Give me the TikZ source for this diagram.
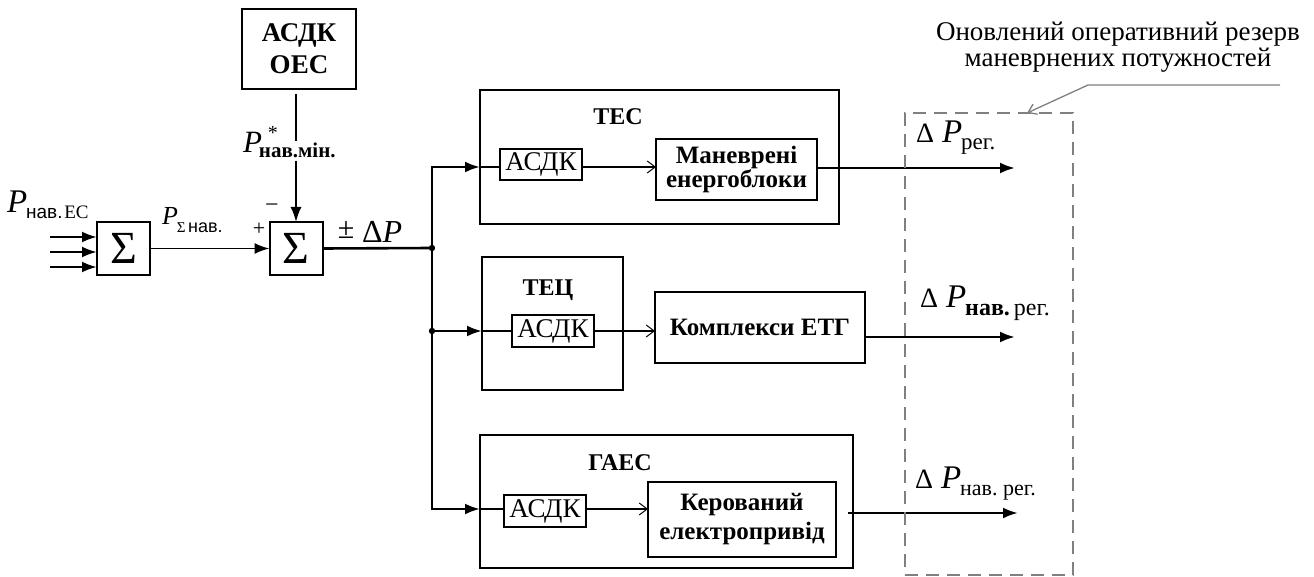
\documentclass[tikz,border=0pt]{standalone}
\usepackage{fontspec}
\setmainfont{Liberation Serif}
\newfontfamily\subsans{Liberation Sans}
\usetikzlibrary{arrows.meta,calc}
\newcommand{\fs}[1]{\fontsize{#1}{#1}\selectfont}
\newcommand{\DPlab}[2]{{\fs{28}Δ}\hspace{8pt}{\fs{33}\textit{P}}\kern-1pt\raisebox{-7pt}{\fs{#2}#1}}
\begin{document}
\begin{tikzpicture}[x=1pt,y=-1pt,
  every node/.style={inner sep=0pt,outer sep=0pt},
  sumbox/.style={draw,line width=2pt,minimum width=53pt,minimum height=53pt,font=\fs{46}},
  outerbox/.style={draw,line width=2.6pt},
  innerbox/.style={draw,line width=1.6pt},
  ttl/.style={font=\bfseries\fs{24}},
  asdk/.style={innerbox,minimum width=82pt,minimum height=31pt,font=\fs{27}},
  unit/.style={innerbox,align=center,font=\bfseries\fs{25}},
  sig/.style={line width=2.6pt},
  fine/.style={line width=1.4pt},
  fillarr/.style={-{Latex[length=15pt,width=11pt]}},
  openarr/.style={-{Straight Barb[length=8pt,width=12pt,line width=1pt]}},
  grayline/.style={draw=black!50,line width=1.3pt}
]
\useasboundingbox (0,0) rectangle (1314,577);

% summators
\node[sumbox] (s1) at (123.5,248.5) {Σ};
\node[sumbox] (s2) at (296,248.5) {Σ};
\node[draw,line width=2pt,minimum width=114pt,minimum height=80pt,align=center,
      font=\bfseries\fs{27},text depth=0pt] (oes) at (299,49) {АСДК\\[5pt]ОЕС};

% inputs
\coordinate (i1) at (50,237);
\coordinate (i2) at (50,252);
\coordinate (i3) at (50,267);
\foreach \c in {i1,i2,i3}{
  \draw[sig,fillarr] (\c) -- (\c -| s1.west);
}
\node[anchor=base west] (lin) at (7,213) {{\fs{33}\textit{P}}\kern-1pt\raisebox{-6pt}{{\subsans\fs{19}нав.}\,{\fs{19}ЕС}}};

% s1 -> s2
\draw[line width=1.8pt,fillarr] (s1.east) -- (s2.west);
\node[anchor=base west] (lsum) at (162,225) {{\fs{26}\textit{P}}\kern-1pt\raisebox{-8pt}{\fs{15}Σ\,{\subsans\fs{18}нав.}}};
\node (plus) at (259,229) {\fs{22}+};
\node (minus) at (272,208) {\fs{24}−};

% oes -> s2
\coordinate (m1) at (296,141);
\coordinate (m2) at (296,161);
\draw[line width=1.8pt,shorten <=5pt] (oes.south -| m1) -- (m1);
\draw[line width=1.8pt,fillarr] (m2) -- (s2.north);
\node[anchor=base west] (lmin) at (243,153)
  {{\fs{31}\textit{P}}\kern-3pt\rlap{\hspace{9pt}\raisebox{13pt}{\fs{20}*}}\raisebox{-5pt}{\fs{21}\bfseries нав.мін.}};

% s2 -> junction
\coordinate (J) at (432,248);
\draw[sig] (s2.east) -- (J);
\node (pm) at (346,230) {\fs{30}±};
\node[anchor=base west] (dp) at (362,243) {{\fs{32}Δ\textit{P}}};

% plants
\node[outerbox,minimum width=359pt,minimum height=134pt] (tes) at (659.5,157) {};
\node[ttl] (testtl) at (618,117) {ТЕС};
\node[asdk] (a1) at (541,164.5) {АСДК};
\node[unit,minimum width=161pt,minimum height=61pt] (man) at (736.5,169.5) {Маневрені\\[-1pt]енергоблоки};

\node[outerbox,line width=2.2pt,minimum width=141pt,minimum height=133pt] (tec) at (552.5,323.5) {};
\node[ttl] (tecttl) at (548,290) {ТЕЦ};
\node[asdk,minimum height=32pt] (a2) at (553,331) {АСДК};
\node[unit,minimum width=210pt,minimum height=71pt,font=\bfseries\fs{25}] (etg) at (760,327.5) {Комплекси ЕТГ};

\node[outerbox,minimum width=373pt,minimum height=133pt] (gaes) at (666.5,501.5) {};
\node[ttl] (gaesttl) at (620,463) {ГАЕС};
\node[asdk,minimum height=32pt] (a3) at (545,511) {АСДК};
\node[unit,minimum width=188pt,minimum height=75pt,font=\bfseries\fs{25}] (ker) at (742,519.5) {Керований\\[4pt]електропривід};

% bus
\coordinate (y1) at (0,167);
\coordinate (y2) at (0,331);
\coordinate (y3) at (0,509);
\coordinate (b2) at (J |- y2);
\draw[sig,fillarr] (J) |- (tes.west |- y1);
\draw[sig,fillarr] (J) |- (gaes.west |- y3);
\draw[sig,fillarr] (b2) -- (tec.west |- y2);
\fill (J) circle (3.2pt);
\fill (b2) circle (3.2pt);

% inner paths
\draw[fine] (tes.west |- y1) -- (a1.west |- y1);
\draw[fine,openarr] (a1.east |- y1) -- (man.west |- y1);
\draw[fine] (tec.west |- y2) -- (a2.west |- y2);
\draw[fine,openarr] (a2.east |- y2) -- (etg.west |- y2);
\draw[fine] (gaes.west |- y3) -- (a3.west |- y3);
\draw[fine,openarr] (a3.east |- y3) -- (ker.west |- y3);

% outputs
\coordinate (o1) at (1015,168);
\coordinate (o2) at (1015,337);
\coordinate (o3) at (1018,513);
\draw[sig,fillarr] (man.east |- o1) -- (o1);
\draw[sig,fillarr] (etg.east |- o2) -- (o2);
\draw[sig,fillarr] ($(gaes.east |- o3)+(-5,0)$) -- (o3);

\node[anchor=base west] (d1) at (916,143) {\DPlab{рег.}{23}};
\node[anchor=base west] (d2) at (920,308) {\DPlab{{\bfseries нав.}\,рег.}{24}};
\node[anchor=base west] (d3) at (915,488) {\DPlab{нав.\ рег.}{22}};

% reserve area
\node[draw=black!50,line width=1.5pt,dash pattern=on 13pt off 8pt,minimum width=168pt,minimum height=462pt] (res) at (989,344) {};
\node[align=center,font=\fs{27},text depth=0pt] (ann) at (1118,44) {Оновлений оперативний резерв\\[-1pt]маневрнених потужностей};
\coordinate (pa) at (1280,85);
\coordinate (pb) at (1088,85);
\coordinate (pk) at (1027,113);
\draw[grayline,-{Straight Barb[length=8pt,width=11pt]}] (pa) -- (pb) -- (pk);
\end{tikzpicture}
\end{document}
